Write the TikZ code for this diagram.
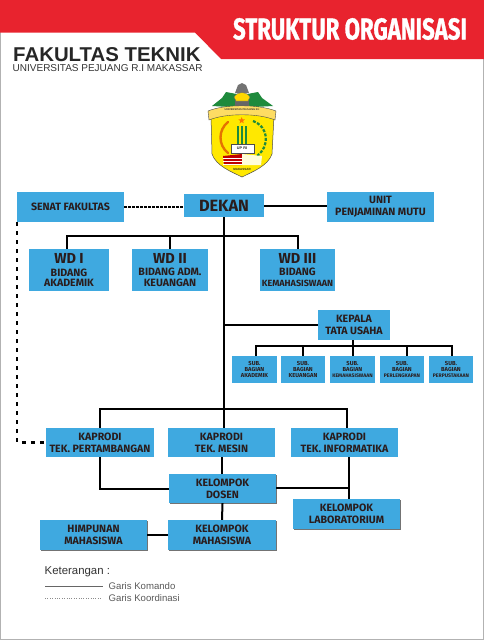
\documentclass[tikz,border=0pt]{standalone}
\usepackage{fontspec}
\setmainfont{Liberation Sans}
\newfontfamily\boxfont{Fira Sans}[UprightFont=* Medium,BoldFont=* Bold]
\newfontfamily\titlefont{Fira Sans}[UprightFont=* Bold,FakeBold=1.2]
\usetikzlibrary{shapes.geometric,shadows}
\definecolor{headred}{HTML}{E8232E}
\definecolor{boxblue}{HTML}{3FA9E0}
\definecolor{boxtext}{HTML}{2A1C1C}
\definecolor{leafgreen}{HTML}{1E8A3C}
\definecolor{shieldyellow}{HTML}{FFE800}
\tikzset{
  orgbox/.style={fill=boxblue, text=boxtext, align=center, inner sep=0pt,
    font=\boxfont\bfseries\fontsize{10.6}{12.3}\selectfont},
  subbox/.style={orgbox, font=\boxfont\bfseries\fontsize{5.8}{6.4}\selectfont},
  shadowbox/.style={orgbox, drop shadow={shadow xshift=1pt, shadow yshift=-1pt, fill=black!55, opacity=1}},
  komando/.style={line width=2pt, black},
  koordinasi/.style={line width=1.8pt, black, dash pattern=on 2.6pt off 1.4pt},
  koorlong/.style={line width=2.2pt, black, dash pattern=on 4pt off 5pt},
}
\newcommand{\orgnode}[7][orgbox]{%
  \node[#1, minimum width=#5pt-#3pt, minimum height=#6pt-#4pt] (#2) at ({(#3+#5)/2},{(#4+#6)/2}) {#7};}
\newcommand{\wdfont}{\fontsize{14.5}{15}\selectfont}
\newcommand{\subsmall}{\fontsize{5.1}{6.4}\selectfont}
\begin{document}
\begin{tikzpicture}[x=1pt, y=-1pt]
\useasboundingbox (0,0) rectangle (484,640);
% Page
\draw[black!30, line width=1pt] (0.5,0) -- (0.5,639.5) -- (483.5,639.5) -- (483.5,0);

% Header
\fill[headred] (0,0) -- (484,0) -- (484,59) -- (221,59) -- (195,32.5) -- (0,32.5) -- cycle;
\node[text=white, font=\titlefont\fontsize{30}{30}\selectfont, inner sep=0pt] (title) at (350,29)
  {\scalebox{0.74}[1]{STRUKTUR ORGANISASI}};
\node[text=black!85, font=\bfseries\fontsize{20}{20}\selectfont, inner sep=0pt, anchor=west] (fakultas) at (13,54.5)
  {\scalebox{1.02}[1]{FAKULTAS TEKNIK}};
\node[text=black!80, font=\fontsize{10}{10}\selectfont, inner sep=0pt, anchor=west] (univ) at (12.5,68.5)
  {UNIVERSITAS PEJUANG R.I MAKASSAR};

% Logo
\fill[leafgreen] (242,95) -- (226,92) -- (222,98) -- (212,106) -- (230,107) -- (242,110) -- (254,107) -- (273,106) -- (262,98) -- (258,92) -- cycle;
\fill[black!60] (235,100) rectangle (249,107);
\fill[black!55] (235,93) -- (238,85) -- (242,83) -- (246,85) -- (249,93) -- cycle;
\fill[shieldyellow!85!orange, draw=black!60, line width=0.3pt] (234,97) .. controls (238,91) and (246,91) .. (250,97) -- (248,101) -- (236,101) -- cycle;
\draw[draw=black!70, fill=shieldyellow, line width=0.5pt] (211,116) .. controls (226,112) and (258,112) .. (274,116)
  -- (272,154) .. controls (268,166) and (252,172) .. (242,177) .. controls (232,172) and (216,166) .. (212,154) -- cycle;
\draw[draw=black!70, fill=yellow!60!orange!60, line width=0.4pt] (208,111) .. controls (225,104) and (258,104) .. (276,111) -- (275,120) .. controls (258,113) and (226,113) .. (209,120) -- cycle;
\node[text=black!80, font=\bfseries\fontsize{2.6}{3}\selectfont, inner sep=0pt] (logotop) at (242,110) {UNIVERSITAS PEJUANG R.I};
\node[star, star points=5, star point ratio=2.4, fill=orange!90!red, inner sep=0pt, minimum size=7pt] (logostar) at (241.7,120.5) {};
\foreach \x in {238,242,246}
  \fill[leafgreen] (\x-1,126) rectangle (\x+1,145);
\draw[orange!90!black, line width=2.4pt, line cap=round] (228,122) .. controls (218,130) and (218,145) .. (228,153);
\draw[leafgreen, line width=2.2pt, dash pattern=on 3pt off 1.5pt] (253,121) .. controls (269,127) and (270,146) .. (257,156);
\draw[draw=black!70, fill=white, line width=0.3pt] (231,144) rectangle (254,153);
\node[text=black!85, font=\bfseries\fontsize{3.8}{4}\selectfont, inner sep=0pt] (logoup) at (242,148.5) {UP RI};
\fill[red!75!black] (223,156) -- (242,154) -- (242,165) -- (224,165) -- cycle;
\fill[yellow!15] (242,154) -- (262,156) -- (261,165) -- (242,165) -- cycle;
\foreach \y in {158,161,164}
  \draw[white, line width=0.3pt] (223,\y) -- (242,\y);
\node[text=black!85, font=\bfseries\fontsize{3}{3}\selectfont, inner sep=0pt] (logobot) at (242,169) {MAKASSAR};

% Boxes
\orgnode{senat}{17}{192}{124}{222}{SENAT FAKULTAS}
\orgnode{dekan}{184}{194}{264}{217}{\fontsize{16.3}{16}\selectfont DEKAN}
\orgnode{unit}{327}{192}{434}{222}{UNIT\\PENJAMINAN MUTU}
\orgnode{wda}{29}{249}{109}{291}{{\wdfont WD I}\\BIDANG\\[-2pt]AKADEMIK}
\orgnode{wdb}{132}{249}{208}{291}{{\wdfont WD II}\\BIDANG ADM.\\[-2pt]KEUANGAN}
\orgnode{wdc}{260}{249}{335}{291}{{\wdfont WD III}\\BIDANG\\[-2pt]\fontsize{9}{10}\selectfont KEMAHASISWAAN}
\orgnode{kepala}{318}{310}{390}{340}{KEPALA\\TATA USAHA}
\orgnode[subbox]{suba}{232}{356}{277}{383}{SUB.\\BAGIAN\\AKADEMIK}
\orgnode[subbox]{subb}{281}{356}{325}{383}{SUB.\\BAGIAN\\KEUANGAN}
\orgnode[subbox]{subc}{330}{356}{375}{383}{SUB.\\BAGIAN\\\subsmall KEMAHASISWAAN}
\orgnode[subbox]{subd}{380}{356}{424}{383}{SUB.\\BAGIAN\\\subsmall PERLENGKAPAN}
\orgnode[subbox]{sube}{429}{356}{473}{383}{SUB.\\BAGIAN\\\subsmall PERPUSTAKAAN}
\orgnode{tambang}{46}{428}{154}{457}{KAPRODI\\TEK. PERTAMBANGAN}
\orgnode{mesin}{168}{428}{275}{457}{KAPRODI\\TEK. MESIN}
\orgnode{informatika}{291}{428}{398}{457}{KAPRODI\\TEK. INFORMATIKA}
\orgnode[shadowbox]{dosen}{169}{474}{276}{503}{KELOMPOK\\DOSEN}
\orgnode[shadowbox]{lab}{293}{499}{400}{529}{KELOMPOK\\LABORATORIUM}
\orgnode[shadowbox]{himpunan}{40}{520}{147}{550}{HIMPUNAN\\MAHASISWA}
\orgnode[shadowbox]{mahasiswa}{168}{520}{276}{550}{KELOMPOK\\MAHASISWA}

% Lines from the dean
\draw[koordinasi] (senat.east) -- (senat.east -| dekan.west);
\draw[komando] (dekan.east) -- (dekan.east -| unit.west);
\coordinate (wdbus) at (224,236);
\coordinate (kaprodibus) at (224,408.5);
\draw[komando] (dekan.south) -- (kaprodibus);
\draw[komando] ([xshift=-1.7pt]wda.north) |- (wdbus) -| (wdc.north);
\draw[komando] (wdb.north) -- (wdb.north |- wdbus);
\draw[komando] (kepala.west) -- (kepala.west -| wdbus);

% Sub bagian
\coordinate (subbus) at (352.7,346);
\draw[komando] (subbus |- kepala.south) -- (subbus |- subc.north);
\draw[komando] ([xshift=1.5pt]suba.north) |- (subbus) -| ([xshift=1.3pt]sube.north);
\draw[komando] (subb.north) -- (subb.north |- subbus);
\draw[komando] ([xshift=4.7pt]subd.north) -- ([xshift=4.7pt]subd.north |- subbus);

% Kaprodi
\draw[komando] (tambang.north) |- (kaprodibus) -| ([xshift=2.5pt]informatika.north);
\draw[komando] (kaprodibus) -- (kaprodibus |- mesin.north);
\draw[komando] (mesin.south) -- (mesin.south |- dosen.north);
\draw[komando] (tambang.south) |- (dosen.west);
\coordinate (labtop) at (349,488);
\draw[komando] (dosen.east |- labtop) -- (labtop);
\draw[komando] (labtop |- informatika.south) -- (labtop |- lab.north);
\draw[komando] (dosen.south) -- (mahasiswa.north);
\draw[komando] (himpunan.east) -- (mahasiswa.west);

% Coordination line
\coordinate (koorleft) at (17.3,222);
\draw[koorlong] (koorleft) |- (tambang.west);

% Legend
\node[text=black!80, font=\fontsize{11.4}{12}\selectfont, inner sep=0pt, anchor=west] (ket) at (44.5,572) {Keterangan :};
\node[text=black!65, font=\fontsize{9.6}{10}\selectfont, inner sep=0pt, anchor=west] (lgkomando) at (108.5,586) {Garis Komando};
\node[text=black!65, font=\fontsize{9.6}{10}\selectfont, inner sep=0pt, anchor=west] (lgkoordinasi) at (108.5,598) {Garis Koordinasi};
\coordinate (lgstarta) at (45,586.5);
\coordinate (lgenda) at (103,586.5);
\coordinate (lgstartb) at (45,598.5);
\coordinate (lgendb) at (102,598.5);
\draw[black!60, line width=0.5pt] (lgstarta) -- (lgenda);
\draw[black!45, line width=0.4pt, dotted] (lgstartb) -- (lgendb);
\end{tikzpicture}
\end{document}
